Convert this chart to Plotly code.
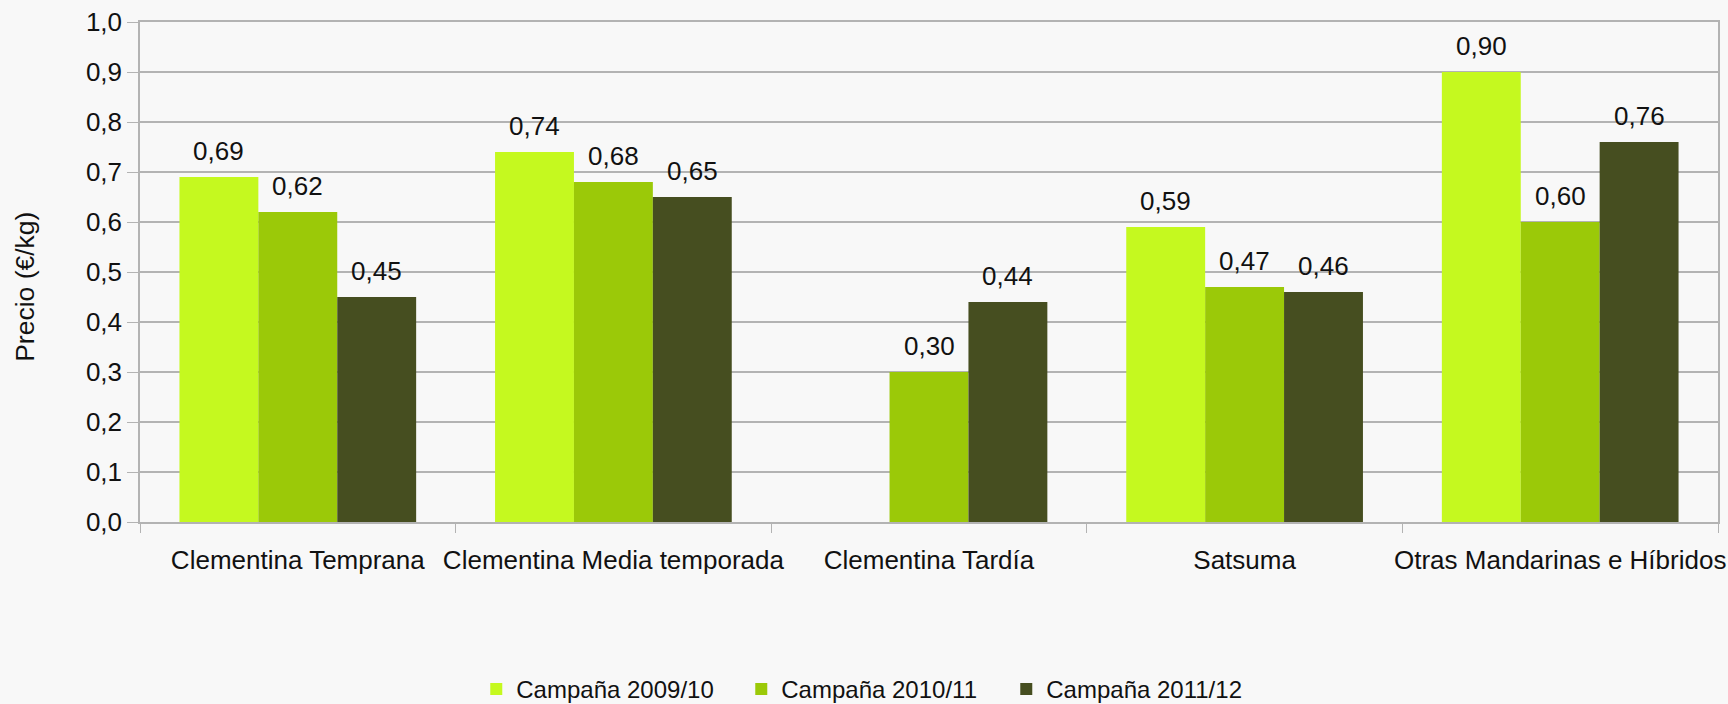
import plotly.graph_objects as go

categorias = ["Clementina Temprana", "Clementina Media temporada", "Clementina Tardía",
              "Satsuma", "Otras Mandarinas e Híbridos"]
campanas = ["Campaña 2009/10", "Campaña 2010/11", "Campaña 2011/12"]
precio_0910 = [0.69, 0.74, None, 0.59, 0.90]
precio_1011 = [0.62, 0.68, 0.30, 0.47, 0.60]
precio_1112 = [0.45, 0.65, 0.44, 0.46, 0.76]
colores = ["#c5f91f", "#9bc908", "#464e20"]

series = [precio_0910, precio_1011, precio_1112]
ancho_barra = (1728 - 140 - 10) / len(categorias) * 0.75 / 3

fig = go.Figure()
for i, (nombre, valores, color) in enumerate(zip(campanas, series, colores)):
    fig.add_trace(go.Bar(
        x=categorias, y=valores, name=nombre,
        marker=dict(color=color, line=dict(width=0)),
    ))
    # etiquetas de valor encima de cada barra
    for cat, v in zip(categorias, valores):
        if v is None:
            continue
        fig.add_annotation(
            x=cat, y=v, xref="x", yref="y",
            text=f"{v:.2f}".replace(".", ","),
            showarrow=False, yanchor="middle", yshift=26,
            xshift=(i - 1) * ancho_barra,
            font=dict(size=26, color="#111111"),
        )

# titulo del eje y (algo desplazado hacia abajo, como en el original)
fig.add_annotation(
    text="Precio (€/kg)", textangle=-90, showarrow=False,
    xref="paper", yref="paper", x=-0.073, y=0.47,
    xanchor="center", yanchor="middle",
    font=dict(size=26.5, color="#111111"),
)

fig.update_layout(
    width=1728, height=704,
    paper_bgcolor="#f8f8f8", plot_bgcolor="#f8f8f8",
    font=dict(family="Liberation Sans, Arial, sans-serif", size=26, color="#111111"),
    separators=",.",
    barmode="group", bargap=0.25, bargroupgap=0,
    margin=dict(l=140, r=10, t=22, b=182, autoexpand=False),
    showlegend=True,
    legend=dict(orientation="h", x=0.465, xanchor="center", y=-0.335, yanchor="middle",
                font=dict(size=24), entrywidth=220, entrywidthmode="pixels",
                bgcolor="rgba(0,0,0,0)"),
)
fig.update_xaxes(
    showline=True, linecolor="#b3b3b3", linewidth=1.5, mirror=True,
    ticks="outside", tickson="boundaries", ticklen=9, tickcolor="#b3b3b3",
    ticklabelstandoff=14, tickfont=dict(size=26), tickangle=0,
)
fig.update_yaxes(
    range=[0, 1.0], dtick=0.1, tickformat=".1f",
    showgrid=True, gridcolor="#b3b3b3", gridwidth=1.5,
    showline=True, linecolor="#b3b3b3", linewidth=1.5, mirror=True,
    ticks="outside", ticklen=11, tickcolor="#b3b3b3",
    tickfont=dict(size=26), zeroline=False,
)

fig.write_html("out.html", config={"displayModeBar": False},
               post_script="document.body.style.margin='0';")
